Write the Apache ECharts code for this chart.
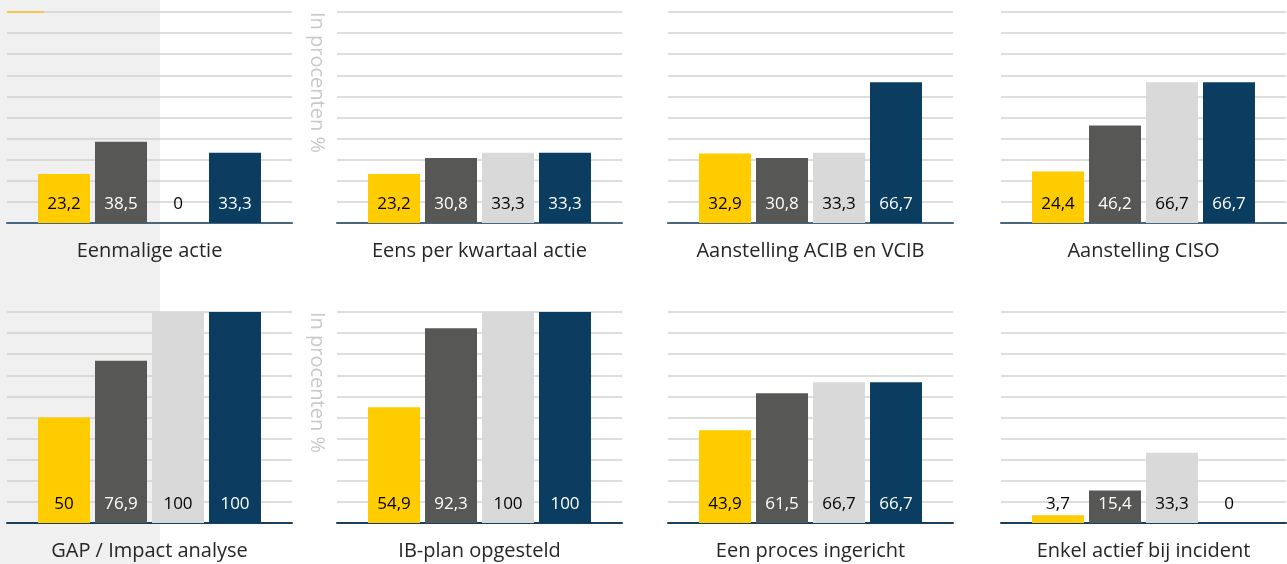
<!DOCTYPE html>
<html>
<head>
<meta charset="utf-8">
<script src="https://cdn.jsdelivr.net/npm/echarts@6/dist/echarts.min.js"></script>
<style>
  html, body { margin: 0; padding: 0; background: #fff; }
  #chart { width: 1287px; height: 564px; }
</style>
</head>
<body>
<div id="chart"></div>
<script>
// categorieen (een per paneel)
const categories = [
  'Eenmalige actie', 'Eens per kwartaal actie', 'Aanstelling ACIB en VCIB', 'Aanstelling CISO',
  'GAP / Impact analyse', 'IB-plan opgesteld', 'Een proces ingericht', 'Enkel actief bij incident'
]
// waarden per reeks (kleur), per paneel
const geel = [23.2, 23.2, 32.9, 24.4, 50, 54.9, 43.9, 3.7]
const donkergrijs = [38.5, 30.8, 30.8, 46.2, 76.9, 92.3, 61.5, 15.4]
const lichtgrijs = [0, 33.3, 33.3, 66.7, 100, 100, 66.7, 33.3]
const blauw = [33.3, 33.3, 66.7, 66.7, 100, 100, 66.7, 0]
const yTicks = [0, 10, 20, 30, 40, 50, 60, 70, 80, 90, 100]
const axisName = 'In procenten %'

const reeksen = [
  { data: geel, color: '#FFCC00', labelColor: '#000' },
  { data: donkergrijs, color: '#575756', labelColor: '#fff' },
  { data: lichtgrijs, color: '#D9D9D9', labelColor: '#000' },
  { data: blauw, color: '#0A3D5F', labelColor: '#fff' }
]

let myChart = echarts.init(document.getElementById('chart'))

const lefts = [7, 337, 668, 1001]
const tops = [12, 312]
const font = '"Open Sans", "Noto Sans", sans-serif'

let grids = []
let xAxes = []
let yAxes = []
let series = []

categories.forEach((cat, p) => {
  const row = Math.floor(p / 4)
  const col = p % 4
  grids.push({ left: lefts[col], top: tops[row], width: 285, height: 211 })
  xAxes.push({
    type: 'category',
    gridIndex: p,
    data: [cat],
    axisTick: { show: false },
    axisLine: {
      lineStyle: { color: row === 0 ? '#47667f' : '#1a3f5d', width: 2 }
    },
    axisLabel: {
      color: '#262626',
      fontSize: 20,
      fontFamily: font,
      margin: 18
    }
  })
  yAxes.push({
    type: 'value',
    gridIndex: p,
    min: yTicks[0],
    max: yTicks[yTicks.length - 1],
    interval: yTicks[1] - yTicks[0],
    axisLabel: { show: false },
    axisLine: { show: false },
    axisTick: { show: false },
    splitLine: {
      show: true,
      lineStyle: { color: '#d2d2d2', width: 1.5 }
    }
  })
  reeksen.forEach((r, i) => {
    const v = r.data[p]
    series.push({
      type: 'bar',
      xAxisIndex: p,
      yAxisIndex: p,
      data: [v],
      barWidth: 52,
      barGap: '9.6%',
      itemStyle: { color: r.color },
      label: {
        show: true,
        position: 'insideBottom',
        distance: 10,
        // lege staaf: label in zwart
        color: v === 0 ? '#000' : r.labelColor,
        fontSize: 17,
        fontFamily: font,
        formatter: (d) => String(d.value).replace('.', ',')
      },
      silent: true,
      animation: false
    })
  })
})

let graphics = [
  {
    type: 'rect',
    z: -10,
    shape: { x: 0, y: 0, width: 160, height: 564 },
    style: { fill: '#f0f0f0' }
  },
  {
    type: 'line',
    z: 10,
    shape: { x1: 7, y1: 12, x2: 44, y2: 12 },
    style: { stroke: '#f2c94c', lineWidth: 2 }
  }
]
tops.forEach((t) => {
  graphics.push({
    type: 'text',
    x: 317,
    y: t,
    rotation: -Math.PI / 2,
    style: {
      text: axisName,
      fill: '#c9c9c9',
      font: '20px ' + font,
      align: 'left',
      verticalAlign: 'middle'
    }
  })
})

myChart.setOption({
  animation: false,
  graphic: graphics,
  grid: grids,
  xAxis: xAxes,
  yAxis: yAxes,
  series: series
})
</script>
</body>
</html>
